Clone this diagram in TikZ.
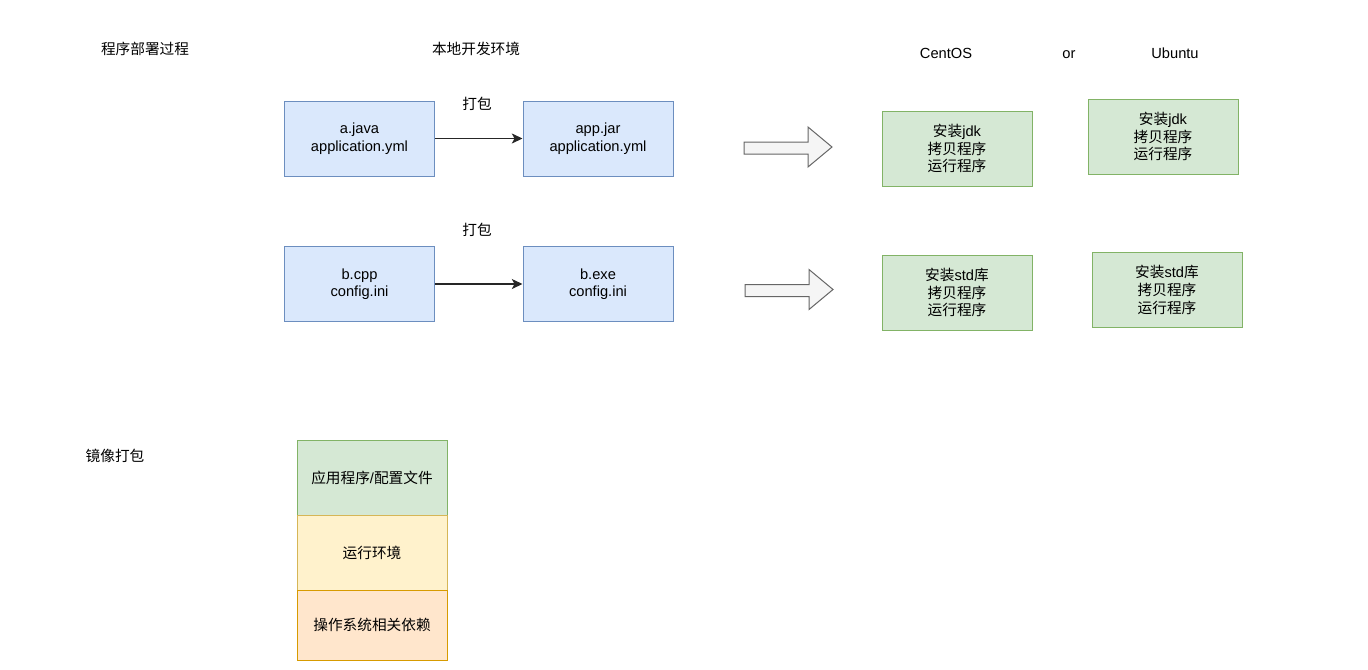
\documentclass[tikz,border=0pt]{standalone}
\usepackage{fontspec}
\setmainfont{Liberation Sans}
\newfontfamily\cjk{Noto Sans CJK SC}
\newcommand{\zh}[1]{{\cjk #1}}
\usepackage{tikz}
\usetikzlibrary{arrows.meta,positioning}
\definecolor{blueFill}{HTML}{DAE8FC}\definecolor{blueLine}{HTML}{6C8EBF}
\definecolor{greenFill}{HTML}{D5E8D4}\definecolor{greenLine}{HTML}{82B366}
\definecolor{yellowFill}{HTML}{FFF2CC}\definecolor{yellowLine}{HTML}{D6B656}
\definecolor{orangeFill}{HTML}{FFE6CC}\definecolor{orangeLine}{HTML}{D79B00}
\definecolor{grayFill}{HTML}{F5F5F5}\definecolor{grayLine}{HTML}{666666}
\tikzset{
  box/.style={draw,line width=0.75pt,minimum width=112.5pt,minimum height=56.25pt,align=center,inner sep=0pt,font=\fontsize{11}{13.2}\selectfont},
  bluebox/.style={box,fill=blueFill,draw=blueLine},
  greenbox/.style={box,fill=greenFill,draw=greenLine},
  yellowbox/.style={box,fill=yellowFill,draw=yellowLine},
  orangebox/.style={box,fill=orangeFill,draw=orangeLine,minimum height=52.5pt},
  lbl/.style={font=\fontsize{11}{13.2}\selectfont,inner sep=0pt},
  bigarrow/.style={fill=grayFill,draw=grayLine,line width=0.75pt},
  pack/.style={-{Stealth[length=8pt,width=7.5pt,inset=2pt]},line width=1pt,draw=black!85}
}
\begin{document}
\begin{tikzpicture}[x=0.75pt,y=-0.75pt]
\useasboundingbox(0,0)rectangle(1368,669);
% titles
\node[lbl](t1)at(145,49){\zh{程序部署过程}};
\node[lbl](t2)at(476,49){\zh{本地开发环境}};
\node[lbl](t3)at(946,53){CentOS};
\node[lbl](t4)at(1069,55){or};
\node[lbl](t5)at(1175,53){Ubuntu};
\node[lbl](t6)at(115,456){\zh{镜像打包}};
% java
\node[bluebox](java)at(359.5,138.5){a.java\\application.yml};
\node[bluebox](jar)at(598,138.5){app.jar\\application.yml};
\node[lbl](p1)at(477,104){\zh{打包}};
\draw[pack](java)--(jar);
\draw[bigarrow](744,142)--(808,142)--(808,127)--(832,147)--(808,167)--(808,154)--(744,154)--cycle;
\node[greenbox](centos1)at(957,148.5){\zh{安装}jdk\\\zh{拷贝程序}\\\zh{运行程序}};
\node[greenbox](ubuntu1)at(1163,136.5){\zh{安装}jdk\\\zh{拷贝程序}\\\zh{运行程序}};
% cpp
\node[bluebox](cpp)at(359.5,284){b.cpp\\config.ini};
\node[bluebox](exe)at(598,284){b.exe\\config.ini};
\node[lbl](p2)at(477,230){\zh{打包}};
\draw[pack](cpp)--(exe);
\draw[bigarrow](745,284.5)--(809,284.5)--(809,269.5)--(833,289.5)--(809,309.5)--(809,296.5)--(745,296.5)--cycle;
\node[greenbox](centos2)at(957,292.5){\zh{安装}std\zh{库}\\\zh{拷贝程序}\\\zh{运行程序}};
\node[greenbox](ubuntu2)at(1167,290){\zh{安装}std\zh{库}\\\zh{拷贝程序}\\\zh{运行程序}};
% image layers
\node[greenbox](app)at(372,477.5){\zh{应用程序}/\zh{配置文件}};
\node[yellowbox,below=-0.75pt of app](env){\zh{运行环境}};
\node[orangebox,below=-0.75pt of env](os){\zh{操作系统相关依赖}};
\end{tikzpicture}
\end{document}
